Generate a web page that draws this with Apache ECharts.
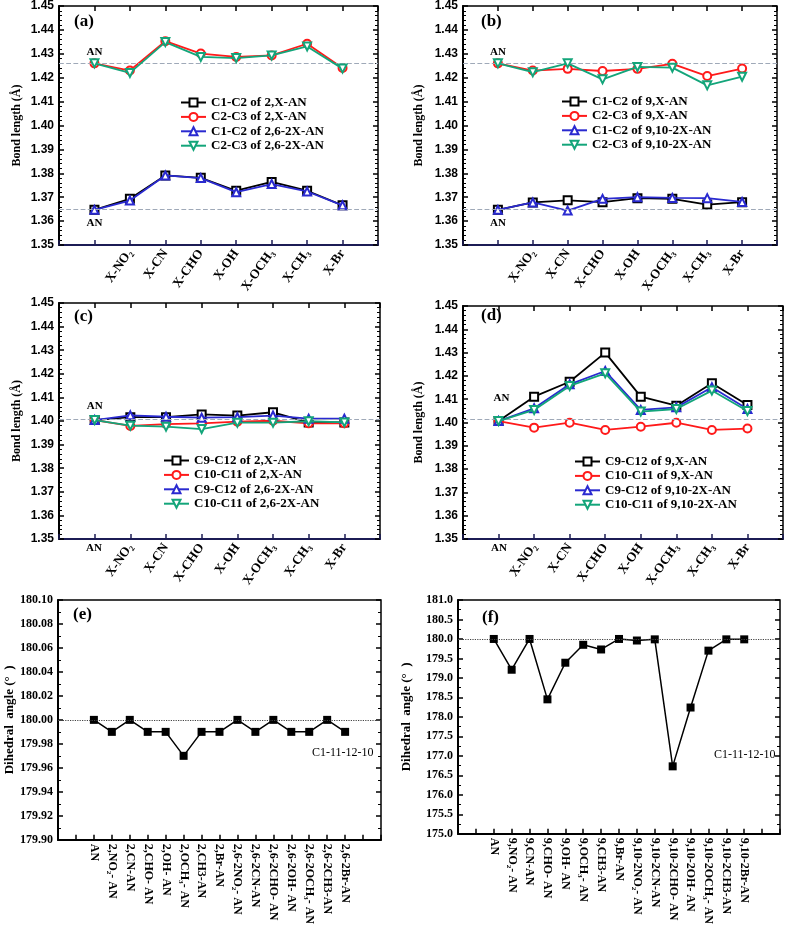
<!DOCTYPE html>
<html><head><meta charset="utf-8">
<script src="https://cdn.jsdelivr.net/npm/echarts@6/dist/echarts.min.js"></script>
<style>html,body{margin:0;padding:0;background:#fff}#c{width:789px;height:927px}</style>
</head><body><div id="c"></div>
<script>
// ---------- DATA ----------
const xCats = ['AN','X-NO\u2082','X-CN','X-CHO','X-OH','X-OCH\u2083','X-CH\u2083','X-Br'];
const catsE = ['AN','2,NO\u2082- AN','2,CN-AN','2,CHO- AN','2,OH- AN','2,OCH\u2083- AN','2,CH3-AN','2,Br-AN','2,6-2NO\u2082- AN','2,6-2CN-AN','2,6-2CHO- AN','2,6-2OH- AN','2,6-2OCH\u2083- AN','2,6-2CH3-AN','2,6-2Br-AN'];
const catsF = ['AN','9,NO\u2082- AN','9,CN-AN','9,CHO- AN','9,OH- AN','9,OCH\u2083- AN','9,CH3-AN','9,Br-AN','9,10-2NO\u2082- AN','9,10-2CN-AN','9,10-2CHO- AN','9,10-2OH- AN','9,10-2OCH\u2083- AN','9,10-2CH3-AN','9,10-2Br-AN'];

const namesA = ['C1-C2 of 2,X-AN','C2-C3 of 2,X-AN','C1-C2 of 2,6-2X-AN','C2-C3 of 2,6-2X-AN'];
const a_C1C2_2X  = [1.3647,1.3693,1.3791,1.3781,1.3727,1.3764,1.3727,1.3666];
const a_C2C3_2X  = [1.4260,1.4230,1.4353,1.4301,1.4287,1.4293,1.4342,1.4241];
const a_C1C2_26  = [1.3647,1.3686,1.3791,1.3780,1.3721,1.3755,1.3724,1.3666];
const a_C2C3_26  = [1.4260,1.4220,1.4349,1.4287,1.4282,1.4293,1.4331,1.4238];
const refA = [1.4259, 1.3651];

const namesB = ['C1-C2 of 9,X-AN','C2-C3 of 9,X-AN','C1-C2 of 9,10-2X-AN','C2-C3 of 9,10-2X-AN'];
const b_C1C2_9X  = [1.3647,1.3678,1.3687,1.3679,1.3696,1.3693,1.3669,1.3679];
const b_C2C3_9X  = [1.4260,1.4230,1.4237,1.4228,1.4237,1.4258,1.4207,1.4238];
const b_C1C2_910 = [1.3647,1.3678,1.3644,1.3693,1.3700,1.3697,1.3696,1.3680];
const b_C2C3_910 = [1.4260,1.4223,1.4260,1.4193,1.4245,1.4242,1.4168,1.4204];
const refB = [1.4259, 1.3651];

const namesC = ['C9-C12 of 2,X-AN','C10-C11 of 2,X-AN','C9-C12 of 2,6-2X-AN','C10-C11 of 2,6-2X-AN'];
const c_C9C12_2X   = [1.4004,1.4016,1.4016,1.4028,1.4023,1.4037,1.3994,1.3994];
const c_C10C11_2X  = [1.4004,1.3979,1.3987,1.3990,1.3997,1.4001,1.3990,1.3990];
const c_C9C12_26   = [1.4004,1.4024,1.4018,1.4014,1.4016,1.4023,1.4010,1.4010];
const c_C10C11_26  = [1.4004,1.3980,1.3976,1.3966,1.3993,1.3993,1.3999,1.3994];
const refC = [1.4007];

const namesD = ['C9-C12 of 9,X-AN','C10-C11 of 9,X-AN','C9-C12 of 9,10-2X-AN','C10-C11 of 9,10-2X-AN'];
const d_C9C12_9X   = [1.4006,1.4111,1.4175,1.4300,1.4111,1.4072,1.4168,1.4075];
const d_C10C11_9X  = [1.4006,1.3978,1.3999,1.3968,1.3982,1.3999,1.3968,1.3974];
const d_C9C12_910  = [1.4006,1.4061,1.4164,1.4221,1.4054,1.4065,1.4151,1.4058];
const d_C10C11_910 = [1.4006,1.4054,1.4157,1.4211,1.4047,1.4058,1.4137,1.4049];
const refD = [1.4015];

const e_dihedral = [180.00,179.99,180.00,179.99,179.99,179.97,179.99,179.99,180.00,179.99,180.00,179.99,179.99,180.00,179.99];
const f_dihedral = [180.00,179.21,180.00,178.45,179.39,179.85,179.73,180.00,179.96,179.99,176.73,178.24,179.70,179.99,179.99];
const refE = [180.00];
const refF = [180.00];

// ---------- STYLE ----------
const SERIF = '"Liberation Serif","Times New Roman",serif';
const SANS = '"Liberation Sans",Arial,sans-serif';
const COLORS = ['#000000','#ff1a1a','#2a2ad0','#13a57a'];
const SYMS = [['emptyRect',0],['emptyCircle',0],['emptyTriangle',0],['emptyTriangle',180]];

const grids=[], xAxes=[], yAxes=[], series=[], legends=[], titles=[];

function addPanel(p, g, o){
  grids.push({left:g[0], top:g[1], width:g[2], height:g[3], show:true, borderColor:'#000', borderWidth:1.5, backgroundColor:'transparent'});
  const botColor = o.botColor || '#000';
  xAxes.push({type:'value', gridIndex:p, position:'bottom', min:o.xmin, max:o.xmax, interval:1,
    axisLine:{show:true, onZero:false, lineStyle:{color:botColor, width:2}},
    axisTick:{show:true, inside:true, length:5, lineStyle:{color:botColor, width:1.5}},
    splitLine:{show:false},
    axisLabel:{show:true, interval:0, showMinLabel:true, showMaxLabel:true, hideOverlap:false,
      rotate:o.rot, margin:o.xmargin, color:'#000', fontFamily:SERIF, fontWeight:'bold', fontSize:o.xfs,
      formatter:v=>{const i=Math.round(v); return (i>=o.firstLab && i<o.cats.length)? o.cats[i] : '';}}
  });
  xAxes.push({type:'value', gridIndex:p, position:'top', min:o.xmin, max:o.xmax, interval:1,
    axisLine:{show:false, onZero:false}, axisLabel:{show:false}, splitLine:{show:false},
    axisTick:{show:o.topTicks, inside:true, length:5, lineStyle:{color:'#000', width:1.5}}});
  const yt = {type:'value', gridIndex:p, min:o.ymin, max:o.ymax, interval:o.yint, splitLine:{show:false},
    axisTick:{show:true, inside:true, length:5, lineStyle:{color:'#000', width:1.5}},
    minorTick:{show:true, splitNumber:o.minor, length:3, lineStyle:{color:'#000', width:1}}};
  yAxes.push(Object.assign({}, yt, {position:'left',
    axisLine:{show:true, onZero:false, lineStyle:{color:'#000', width:2}},
    axisLabel:{show:true, margin:5, color:'#000', fontFamily:o.yfont, fontWeight:'bold', fontSize:o.yfs,
      formatter:v=>v.toFixed(o.dec)},
    name:o.yname, nameLocation:'middle', nameRotate:90, nameGap:o.nameGap,
    nameTextStyle:{fontFamily:SERIF, fontWeight:'bold', fontSize:o.nfs, color:'#000'}}));
  yAxes.push(Object.assign({}, yt, {position:'right', axisLine:{show:false, onZero:false}, axisLabel:{show:false}}));
}

function refLine(vals, type, color){
  return {silent:true, symbol:'none', precision:6, label:{show:false}, animation:false,
    lineStyle:{type:type, color:color, width:1.2},
    data: vals.map(v=>({yAxis:v}))};
}

const o_leg = [[180,96],[561,95],[163,454],[574,455]];

function addBondSeries(p, names, arrs, refs, anLabels){
  arrs.forEach((arr,k)=>{
    const s = {type:'line', name:names[k], xAxisIndex:2*p, yAxisIndex:2*p,
      data: arr.map((v,i)=>[i,v]),
      symbol:SYMS[k][0], symbolRotate:SYMS[k][1], symbolSize:8, color:COLORS[k],
      lineStyle:{color:COLORS[k], width:1.8}, itemStyle:{color:COLORS[k], borderWidth:1.3},
      animation:false, z:2+k};
    const lab = anLabels && anLabels[k];
    if(lab){
      s.label = {show:true, position:lab.pos, distance:lab.dist, offset:lab.off||[0,0],
        fontFamily:SERIF, fontWeight:'bold', fontSize:11, color:'#000',
        formatter:q=> q.dataIndex===0 ? 'AN' : ''};
    }
    if(k===0) s.markLine = refLine(refs,'dashed','#9fa9b8');
    series.push(s);
  });
  legends.push({data:names, orient:'vertical', left:o_leg[p][0], top:o_leg[p][1], padding:0,
    itemWidth:25, itemHeight:10, itemGap:1.4,
    textStyle:{fontFamily:SERIF, fontWeight:'bold', fontSize:13, lineHeight:13, color:'#000'}});
}

const bondOpts = (cats, firstLab, botColor)=>({xmin:-1, xmax:8, cats, firstLab, rot:55, xmargin:6, xfs:13,
  ymin:1.35, ymax:1.45, yint:0.01, minor:5, dec:2, yfont:SANS, yfs:12, yname:'Bond length (\u00c5)',
  nameGap:36, nfs:12, topTicks:true, botColor});

addPanel(0,[59,6,319,239], bondOpts(xCats,1,'#1c1c55'));
addBondSeries(0, namesA, [a_C1C2_2X,a_C2C3_2X,a_C1C2_26,a_C2C3_26], refA,
  [{pos:'bottom',dist:3},{pos:'top',dist:1},null,null]);
addPanel(1,[463,6,314,239], Object.assign(bondOpts(xCats,1,'#1c1c55'),{nameGap:38}));
addBondSeries(1, namesB, [b_C1C2_9X,b_C2C3_9X,b_C1C2_910,b_C2C3_910], refB,
  [{pos:'bottom',dist:3},{pos:'top',dist:1},null,null]);
addPanel(2,[59,303,321,236], bondOpts(xCats,1,'#1c1c55'));
addBondSeries(2, namesC, [c_C9C12_2X,c_C10C11_2X,c_C9C12_26,c_C10C11_26], refC,
  [{pos:'top',dist:3},null,null,null]);
addPanel(3,[463,306,320,233], Object.assign(bondOpts(xCats,1,'#1c1c55'),{nameGap:38}));
addBondSeries(3, namesD, [d_C9C12_9X,d_C10C11_9X,d_C9C12_910,d_C10C11_910], refD,
  [{pos:'top',dist:12,off:[3,0]},null,null,null]);

const angOpts = (cats, ymin, ymax, yint, dec, nameGap)=>({xmin:-2, xmax:16, cats, firstLab:0, rot:-90, xmargin:4, xfs:12,
  ymin, ymax, yint, minor:2, dec, yfont:SERIF, yfs:12, yname:'Dihedral  angle (\u00b0  )',
  nameGap, nfs:13, topTicks:false, botColor:'#000'});
addPanel(4,[58,600,323,242], angOpts(catsE,179.90,180.10,0.02,2,38));
addPanel(5,[458,600,322,243], angOpts(catsF,175.0,181.0,0.5,1,45));
[[e_dihedral,refE],[f_dihedral,refF]].forEach((d,j)=>{
  const p=4+j;
  series.push({type:'line', name:'C1-11-12-10 '+p, xAxisIndex:2*p, yAxisIndex:2*p,
    data:d[0].map((v,i)=>[i,v]), symbol:'rect', symbolSize:8, color:'#000',
    lineStyle:{color:'#000', width:1.5}, itemStyle:{color:'#000'}, animation:false, z:3,
    markLine: refLine(d[1],'dotted','#444')});
});

// text annotations
const tTitle=(text,left,top,fs,bold)=>({text, left, top, padding:0,
  textStyle:{fontFamily:SERIF, fontWeight:bold?'bold':'normal', fontSize:fs, color:'#000'}});
titles.push(tTitle('(a)',74,13,17,true), tTitle('(b)',481,13,17,true),
  tTitle('(c)',74,308,17,true), tTitle('(d)',481,307,17,true),
  tTitle('(e)',73,606,17,true), tTitle('(f)',482,609,17,true),
  tTitle('AN',86,543,11,true), tTitle('AN',491,543,11,true),
  tTitle('C1-11-12-10',312,747,12,false), tTitle('C1-11-12-10',714,749,12,false));

const chart = echarts.init(document.getElementById('c'), null, {renderer:'canvas'});
chart.setOption({backgroundColor:'#fff', animation:false, title:titles, legend:legends,
  grid:grids, xAxis:xAxes, yAxis:yAxes, series});
</script></body></html>
